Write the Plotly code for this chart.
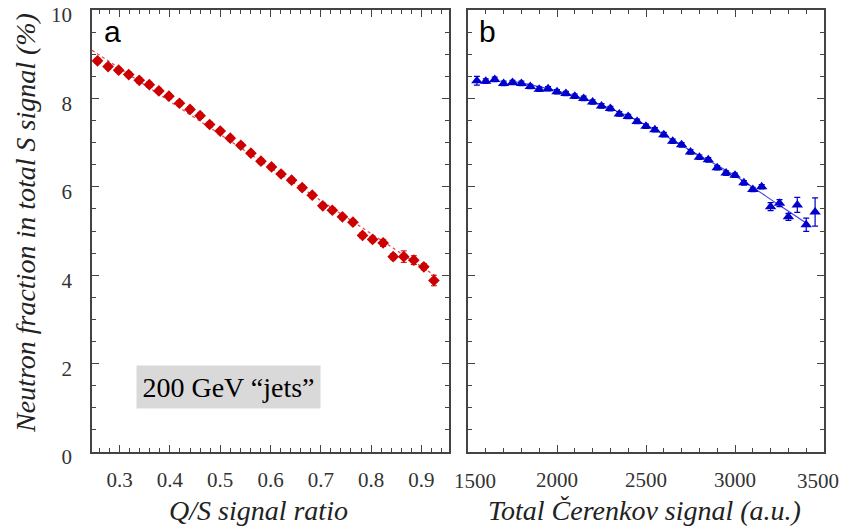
import plotly.graph_objects as go

# Panel a: neutron fraction vs Q/S signal ratio
qs_ratio = [0.256, 0.277, 0.298, 0.318, 0.339, 0.359, 0.378, 0.398, 0.419, 0.440,
            0.460, 0.479, 0.500, 0.520, 0.541, 0.561, 0.581, 0.602, 0.621, 0.642,
            0.663, 0.683, 0.704, 0.723, 0.743, 0.764, 0.783, 0.803, 0.824, 0.844,
            0.865, 0.885, 0.905, 0.925]
frac_a = [8.85, 8.72, 8.64, 8.54, 8.41, 8.31, 8.17, 8.05, 7.89, 7.75,
          7.61, 7.41, 7.26, 7.10, 6.94, 6.76, 6.58, 6.45, 6.29, 6.15,
          5.98, 5.81, 5.57, 5.47, 5.32, 5.20, 4.90, 4.81, 4.73, 4.42,
          4.42, 4.34, 4.19, 3.88]
err_a = [0.06] * 28 + [0.08, 0.07, 0.13, 0.10, 0.07, 0.12]
fit_a_x = [0.245, 0.93]
fit_a_y = [9.09, 3.97]

# Panel b: neutron fraction vs total Cerenkov signal
cer_signal = [1550, 1600, 1650, 1700, 1750, 1800, 1850, 1900, 1950, 2000,
              2050, 2100, 2150, 2200, 2250, 2300, 2350, 2400, 2450, 2500,
              2550, 2600, 2650, 2700, 2750, 2800, 2850, 2900, 2950, 3000,
              3050, 3100, 3150, 3200, 3250, 3300, 3350, 3400, 3450]
frac_b = [8.40, 8.39, 8.43, 8.34, 8.36, 8.34, 8.27, 8.21, 8.22, 8.15,
          8.11, 8.05, 8.00, 7.92, 7.83, 7.77, 7.65, 7.59, 7.48, 7.37,
          7.29, 7.18, 7.03, 6.95, 6.79, 6.67, 6.61, 6.43, 6.31, 6.26,
          6.09, 5.94, 6.00, 5.55, 5.63, 5.32, 5.59, 5.14, 5.43]
err_b = [0.10] + [0.05] * 32 + [0.09, 0.08, 0.08, 0.17, 0.15, 0.32]
fit_b_x = [1760, 2000, 2250, 2500, 2750, 3000, 3250, 3410]
fit_b_y = [8.38, 8.17, 7.85, 7.40, 6.82, 6.25, 5.58, 5.15]

y_ticks = [0, 2, 4, 6, 8, 10]
xa_ticks = [0.3, 0.4, 0.5, 0.6, 0.7, 0.8, 0.9]
xb_ticks = [1500, 2000, 2500, 3000, 3500]

RED = "#cc0000"
BLUE = "#0000cc"
SERIF = "Liberation Serif"
SANS = "Liberation Sans"
FRAME = "#444"
TICK_SIZE = 21

fig = go.Figure()

fig.add_trace(go.Scatter(
    x=fit_a_x, y=fit_a_y, mode="lines",
    line=dict(color="#e85050", width=1.3, dash="dot"),
    xaxis="x", yaxis="y", showlegend=False, hoverinfo="skip"))
fig.add_trace(go.Scatter(
    x=qs_ratio, y=frac_a, mode="markers",
    marker=dict(symbol="diamond", size=9, color=RED),
    error_y=dict(type="data", array=err_a, color=RED, thickness=1, width=3),
    xaxis="x", yaxis="y", showlegend=False))

fig.add_trace(go.Scatter(
    x=fit_b_x, y=fit_b_y, mode="lines",
    line=dict(color="#4444dd", width=1.2, shape="spline"),
    xaxis="x2", yaxis="y2", showlegend=False, hoverinfo="skip"))
fig.add_trace(go.Scatter(
    x=cer_signal, y=frac_b, mode="markers",
    marker=dict(symbol="triangle-up", size=10, color=BLUE),
    error_y=dict(type="data", array=err_b, color=BLUE, thickness=1.2, width=3),
    xaxis="x2", yaxis="y2", showlegend=False))

# empty traces so the top/right frame axes get drawn
for xa, ya in [("x3", "y"), ("x", "y3"), ("x4", "y2"), ("x2", "y4")]:
    fig.add_trace(go.Scatter(x=[None], y=[None], mode="markers", xaxis=xa, yaxis=ya,
                             showlegend=False, hoverinfo="skip"))


def minor(step):
    return dict(dtick=step, ticks="inside", ticklen=4, tickcolor=FRAME, tickwidth=1)


base = dict(
    showline=True, linecolor=FRAME, linewidth=1.5,
    ticks="inside", ticklen=7, tickwidth=1.2, tickcolor=FRAME,
    showgrid=False, zeroline=False, automargin=False,
    ticklabeloverflow="allow",
    tickfont=dict(family=SERIF, size=TICK_SIZE, color="#333"),
)
ydom = [78 / 530, 520 / 530]
xdom_a = [92 / 844, 449 / 844]
xdom_b = [468 / 844, 824 / 844]
xr_a = [0.245, 0.955]
xr_b = [1500, 3500]
yr = [-0.0005, 10.0005]

# the end labels of panel b sit just inside the frame corners
xb_text = ["" if v in (xr_b[0], xr_b[1]) else str(v) for v in xb_ticks]

layout_axes = dict(
    # primary axes (bottom / left)
    xaxis=dict(domain=xdom_a, range=xr_a, tickvals=xa_ticks,
               ticktext=[f"{v:.1f}" for v in xa_ticks], minor=minor(0.02),
               anchor="y", ticklabelstandoff=8, **base),
    yaxis=dict(domain=ydom, range=yr, tickvals=y_ticks, minor=minor(0.5),
               anchor="x", ticklabelstandoff=14, ticklabelshift=5, **base),
    xaxis2=dict(domain=xdom_b, range=xr_b, tickvals=xb_ticks, ticktext=xb_text,
                minor=minor(100), anchor="y2", ticklabelstandoff=8, **base),
    yaxis2=dict(domain=ydom, range=yr, tickvals=y_ticks, minor=minor(0.5),
                showticklabels=False, anchor="x2", **base),
    # mirrored frame axes (top / right) carrying the inside ticks
    xaxis3=dict(domain=xdom_a, range=xr_a, tickvals=xa_ticks, minor=minor(0.02),
                overlaying="x", side="top", anchor="y", showticklabels=False, **base),
    yaxis3=dict(domain=ydom, range=yr, tickvals=y_ticks, minor=minor(0.5),
                overlaying="y", side="right", anchor="x", showticklabels=False, **base),
    xaxis4=dict(domain=xdom_b, range=xr_b, tickvals=xb_ticks, minor=minor(100),
                overlaying="x2", side="top", anchor="y2", showticklabels=False, **base),
    yaxis4=dict(domain=ydom, range=yr, tickvals=y_ticks, minor=minor(0.5),
                overlaying="y2", side="right", anchor="x2", showticklabels=False, **base),
)

fig.update_layout(
    width=844, height=530,
    margin=dict(l=0, r=0, t=0, b=0, autoexpand=False),
    paper_bgcolor="white", plot_bgcolor="white",
    **layout_axes,
)

tick_y = (530 - 481) / 530
annotations = [
    dict(text=str(xr_b[0]), x=xr_b[0], xref="x2", xshift=7, y=tick_y,
         font=dict(family=SERIF, size=TICK_SIZE, color="#333")),
    dict(text=str(xr_b[1]), x=xr_b[1], xref="x2", xshift=-6, y=tick_y,
         font=dict(family=SERIF, size=TICK_SIZE, color="#333")),
    dict(text="<i>Q/S signal ratio</i>", x=258 / 844, y=(530 - 510) / 530,
         font=dict(family=SERIF, size=28, color="#222")),
    dict(text="<i>Total Čerenkov signal (a.u.)</i>", x=644 / 844, y=(530 - 510) / 530,
         font=dict(family=SERIF, size=28, color="#222")),
    dict(text="<i>Neutron fraction in total S signal (%)</i>", x=25 / 844,
         y=(530 - 223) / 530, textangle=-90,
         font=dict(family=SERIF, size=28, color="#222")),
    dict(text="a", x=112 / 844, y=(530 - 32) / 530,
         font=dict(family=SANS, size=30, color="black")),
    dict(text="b", x=487 / 844, y=(530 - 32) / 530,
         font=dict(family=SANS, size=30, color="black")),
    dict(text="200 GeV “jets”", x=228 / 844, y=(530 - 387) / 530,
         font=dict(family=SERIF, size=28, color="black"),
         bgcolor="#d9d9d9", width=183, height=42, borderpad=0),
]
for a in annotations:
    a.setdefault("xref", "paper")
    a.update(yref="paper", showarrow=False, xanchor="center", yanchor="middle")
fig.update_layout(annotations=annotations)

fig.write_html("out.html")
